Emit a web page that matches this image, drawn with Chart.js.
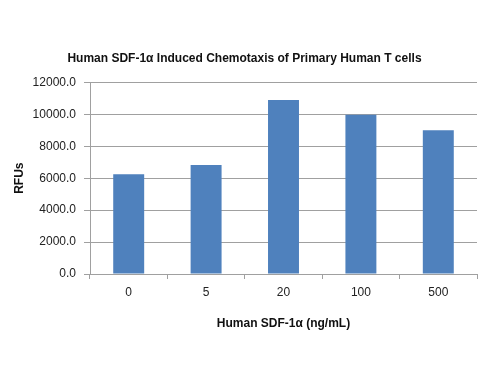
<!DOCTYPE html>
<html>
<head>
<meta charset="utf-8">
<script src="https://cdn.jsdelivr.net/npm/chart.js@4"></script>
<style>
html,body{margin:0;padding:0;background:#fff;}
#wrap{width:500px;height:375px;position:relative;}
</style>
</head>
<body>
<div id="wrap"><canvas id="c" width="500" height="375"></canvas></div>
<script>
const categories = ["0", "5", "20", "100", "500"];
const rfuValues = [6250, 6820, 10900, 9980, 9000];
const yTicks = [0, 2000, 4000, 6000, 8000, 10000, 12000];
const chartTitle = "Human SDF-1\u03B1 Induced Chemotaxis of Primary Human T cells";
const xTitle = "Human SDF-1\u03B1 (ng/mL)";
const yTitle = "RFUs";

const FONT = "'Liberation Sans', Arial, sans-serif";
const gridColor = "#a0a0a0";

new Chart(document.getElementById("c"), {
  type: "bar",
  data: {
    labels: categories,
    datasets: [{
      data: rfuValues,
      backgroundColor: "#4F81BD",
      borderWidth: 0,
      categoryPercentage: 1.0,
      barPercentage: 0.4
    }]
  },
  options: {
    responsive: false,
    animation: false,
    devicePixelRatio: 1,
    layout: { padding: { left: 12, right: 23, top: 0, bottom: 44 } },
    plugins: {
      legend: { display: false },
      tooltip: { enabled: false },
      title: {
        display: true,
        text: chartTitle,
        color: "#111",
        font: { family: FONT, size: 12, weight: "bold" },
        padding: { top: 51, bottom: 17 }
      }
    },
    scales: {
      x: {
        grid: {
          offset: true,
          drawOnChartArea: false,
          drawTicks: true,
          tickLength: 5,
          color: gridColor
        },
        border: { display: true, color: gridColor, width: 1 },
        ticks: {
          color: "#222",
          font: { family: FONT, size: 12 },
          padding: 6
        },
        title: {
          display: true,
          text: xTitle,
          color: "#111",
          font: { family: FONT, size: 12, weight: "bold" },
          padding: { top: 14, bottom: 0 }
        },
        afterFit: (s) => { s.height = 57; }
      },
      y: {
        min: 0,
        max: 12000,
        afterBuildTicks: (s) => { s.ticks = yTicks.map(v => ({ value: v })); },
        grid: {
          color: gridColor,
          tickLength: 6,
          lineWidth: 1
        },
        border: { display: true, color: gridColor, width: 1 },
        ticks: {
          color: "#222",
          font: { family: FONT, size: 12 },
          padding: 8,
          callback: (v) => Number(v).toFixed(1)
        },
        title: {
          display: true,
          text: yTitle,
          color: "#111",
          font: { family: FONT, size: 12, weight: "bold" },
          padding: { top: 0, bottom: 4 }
        },
        afterFit: (s) => { s.width = 78; }
      }
    }
  }
});
</script>
</body>
</html>
